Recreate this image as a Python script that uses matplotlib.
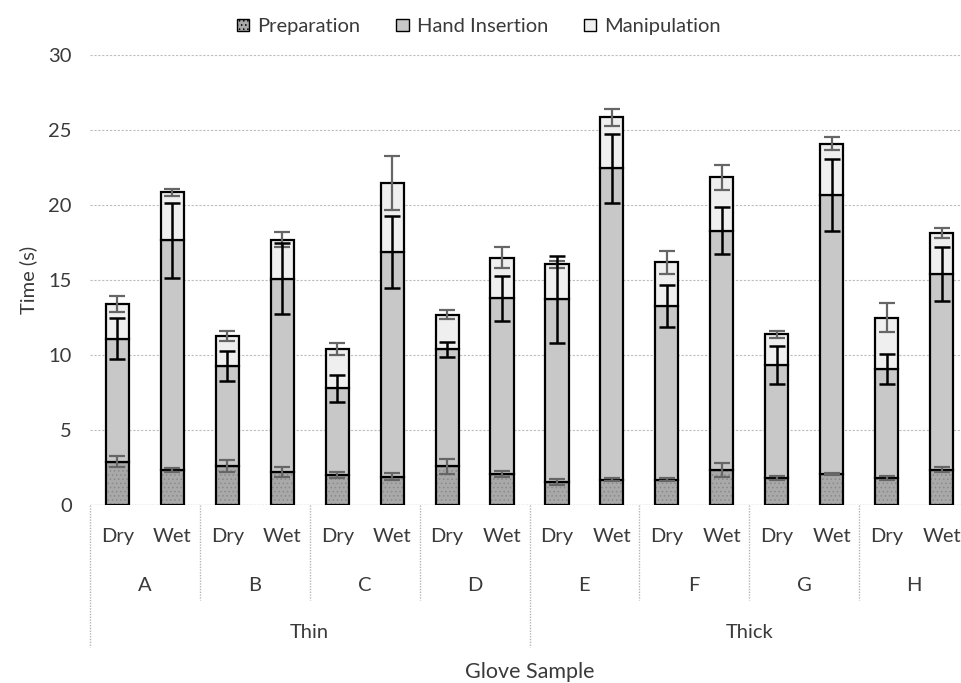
import numpy as np
import matplotlib
matplotlib.use('Agg')
import matplotlib.pyplot as plt
from matplotlib.patches import Patch

plt.rcParams['font.family'] = ['Lato', 'DejaVu Sans']
plt.rcParams['hatch.linewidth'] = 0.6

#----------------
#Data

gloves = ['A', 'B', 'C', 'D', 'E', 'F', 'G', 'H']
conditions = ['Dry', 'Wet']
thickness = ['Thin', 'Thick']

# segment heights (s), order: A Dry, A Wet, B Dry, ...
preparation = [2.9, 2.35, 2.6, 2.2, 2.0, 1.9, 2.6, 2.1,
               1.55, 1.7, 1.7, 2.33, 1.8, 2.05, 1.8, 2.35]
hand_top = [11.1, 17.65, 9.3, 15.1, 7.8, 16.9, 10.4, 13.8,
            13.73, 22.45, 13.25, 18.3, 9.33, 20.67, 9.07, 15.4]
total = [13.4, 20.85, 11.27, 17.67, 10.4, 21.5, 12.7, 16.5,
         16.05, 25.85, 16.18, 21.85, 11.38, 24.1, 12.5, 18.16]

prep_err = [0.37, 0.15, 0.4, 0.35, 0.2, 0.25, 0.5, 0.2,
            0.2, 0.07, 0.12, 0.45, 0.15, 0.07, 0.15, 0.17]
hand_err = [1.38, 2.5, 1.0, 2.35, 0.9, 2.4, 0.5, 1.5,
            2.9, 2.3, 1.4, 1.55, 1.27, 2.4, 1.0, 1.77]
manip_err = [0.53, 0.25, 0.35, 0.5, 0.4, 1.8, 0.3, 0.7,
             0.25, 0.55, 0.77, 0.83, 0.25, 0.45, 0.95, 0.33]

hand = [h - p for h, p in zip(hand_top, preparation)]
manip = [t - h for t, h in zip(total, hand_top)]

#----------------

fig = plt.figure(figsize=(9.62, 6.83), dpi=100)
ax = fig.add_axes([90/962, (683-505)/683, 879/962, 450/683])

x = np.arange(len(preparation))
w = 0.42
txt = '#3a3a3a'
fs = 14.5

# preparation: fill with dotted hatch, then outline
ax.bar(x, preparation, w, color='#a9a9a9', edgecolor='#8a8a8a', hatch='....', linewidth=0, zorder=2)
ax.bar(x, preparation, w, fill=False, edgecolor='black', linewidth=1.6, zorder=3)
ax.bar(x, hand, w, bottom=preparation, color='#c8c8c8', edgecolor='black', linewidth=1.6, zorder=3)
ax.bar(x, manip, w, bottom=hand_top, color='#efefef', edgecolor='black', linewidth=1.6, zorder=3)

ax.errorbar(x, preparation, yerr=prep_err, fmt='none', ecolor='#666666', elinewidth=1.6, capsize=6, capthick=1.6, zorder=4)
ax.errorbar(x, hand_top, yerr=hand_err, fmt='none', ecolor='black', elinewidth=1.8, capsize=6, capthick=1.8, zorder=5)
ax.errorbar(x, total, yerr=manip_err, fmt='none', ecolor='#666666', elinewidth=1.6, capsize=6, capthick=1.6, zorder=4)

ax.set_xlim(-0.5, 15.5)
ax.set_ylim(0, 30)
ax.set_yticks(np.arange(0, 31, 5))
ax.yaxis.grid(True, color='#bdbdbd', linestyle=(0, (2, 1.5)), linewidth=0.8)
ax.set_axisbelow(True)
for s in ax.spines.values():
    s.set_visible(False)
ax.axhline(0, color='#b5b5b5', linestyle=(0, (1, 1)), linewidth=1.0, zorder=1)
ax.tick_params(axis='y', length=0, labelsize=fs, labelcolor=txt, pad=13)
ax.tick_params(axis='x', length=0, labelbottom=False)
ax.set_ylabel('Time (s)', fontsize=fs, color=txt, labelpad=8)

#----------------
#Multi-level category axis

tr = ax.get_xaxis_transform()
for i in x:
    ax.text(i, -0.071, conditions[i % 2], transform=tr, ha='center', va='center', fontsize=fs, color=txt)
for g, name in enumerate(gloves):
    ax.text(2*g + 0.5, -0.178, name, transform=tr, ha='center', va='center', fontsize=fs, color=txt)
for t, name in enumerate(thickness):
    ax.text(8*t + 3.5, -0.284, name, transform=tr, ha='center', va='center', fontsize=fs, color=txt)
ax.text(7.5, -0.371, 'Glove Sample', transform=tr, ha='center', va='center', fontsize=15.5, color=txt)

sep_style = dict(color='#b5b5b5', linestyle=(0, (1, 1)), linewidth=1.0, clip_on=False, transform=tr)
for g in range(1, 8):
    bottom = -0.316 if g == 4 else -0.211
    ax.plot([2*g - 0.5, 2*g - 0.5], [0, bottom], **sep_style)
ax.plot([-0.5, -0.5], [0, -0.316], **sep_style)

#----------------
#Legend

handles = [Patch(facecolor='#a9a9a9', edgecolor='black', hatch='....', label='Preparation'),
           Patch(facecolor='#c8c8c8', edgecolor='black', label='Hand Insertion'),
           Patch(facecolor='#efefef', edgecolor='black', label='Manipulation')]
leg = fig.legend(handles=handles, loc='upper center', bbox_to_anchor=(479/962, 1.0), ncol=3,
                 frameon=False, fontsize=fs, handlelength=0.6, handleheight=0.6,
                 handletextpad=0.4, columnspacing=1.8)
for t in leg.get_texts():
    t.set_color(txt)

fig.savefig('out.png', dpi=100)
